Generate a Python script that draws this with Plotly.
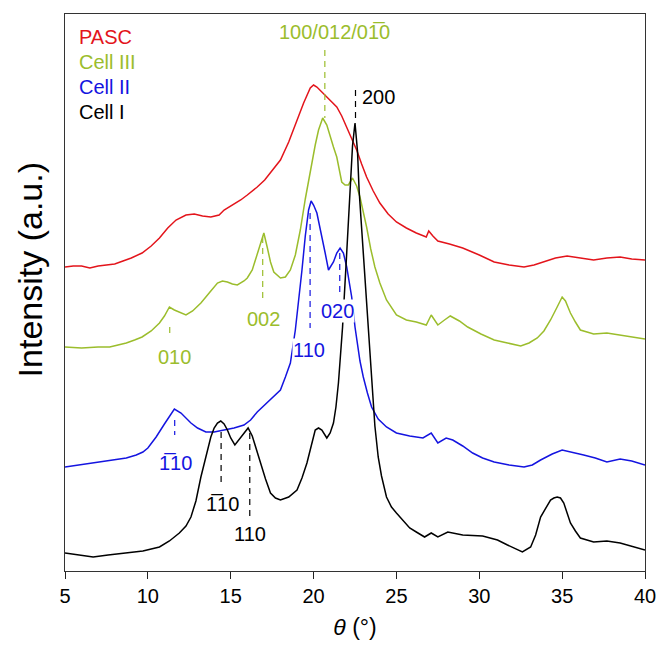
import plotly.graph_objects as go

# ---------------- data (theta in degrees, intensity in arbitrary units) ----------------
pasc_theta = [5.0, 5.5, 6.0, 6.5, 7.0, 7.5, 8.0, 8.5, 9.0, 9.65, 10.2, 10.7, 11.2, 11.7, 12.3, 12.8,
              13.3, 13.8, 14.3, 14.6, 15.1, 15.6, 16.0, 16.6, 17.05, 17.5, 18.0, 18.5, 19.0, 19.4,
              19.8, 20.0, 20.2, 20.5, 20.8, 21.1, 21.4, 21.7, 22.0, 22.3, 22.6, 22.9, 23.2, 23.6,
              24.0, 24.5, 25.0, 25.6, 26.2, 26.8, 26.95, 27.2, 27.5, 28.2, 29.0, 30.0, 30.9, 31.8,
              32.7, 33.3, 33.9, 34.6, 35.3, 36.1, 36.9, 37.7, 38.5, 39.2, 40.0]
pasc_int = [304, 305, 305, 303, 305, 306, 307, 310, 313, 318, 325, 333, 343, 351, 356, 357,
            355, 354, 356, 361, 366, 371, 376, 384, 391, 400, 411, 429, 451, 468,
            483, 486, 484, 479, 474, 469, 464, 455, 444, 433, 421, 407, 394, 380,
            368, 357, 349, 343, 338, 334, 340, 335, 330, 327, 323, 316, 309, 306,
            304, 306, 309, 313, 315, 313, 311, 313, 314, 312, 311]

cell3_theta = [5.0, 6.0, 7.0, 7.7, 8.2, 8.7, 9.2, 9.65, 10.2, 10.7, 11.0, 11.3, 11.6, 12.0, 12.3,
               12.7, 13.2, 13.7, 14.2, 14.5, 14.8, 15.1, 15.4, 15.8, 16.0, 16.3, 16.6, 16.8, 17.0,
               17.2, 17.4, 17.6, 18.0, 18.3, 18.6, 18.9, 19.2, 19.5, 19.8, 20.1, 20.3, 20.55, 20.8,
               21.0, 21.2, 21.4, 21.7, 21.9, 22.1, 22.35, 22.6, 22.8, 23.0, 23.2, 23.45, 23.7,
               24.0, 24.4, 25.0, 25.6, 26.2, 26.8, 27.1, 27.5, 27.9, 28.25, 28.8, 29.3, 30.1,
               30.9, 31.7, 32.5, 33.0, 33.5, 33.9, 34.3, 34.7, 35.0, 35.2, 35.5, 35.8, 36.1, 36.5,
               36.9, 37.7, 38.5, 39.2, 40.0]
cell3_int = [224, 223, 224, 224, 226, 228, 231, 234, 240, 248, 255, 264, 261, 258, 256,
             260, 268, 278, 288, 290, 289, 287, 286, 290, 293, 301, 316, 328, 338,
             324, 309, 299, 293, 294, 301, 316, 341, 372, 401, 426, 441, 453, 446,
             434, 424, 414, 389, 386, 386, 393, 385, 374, 360, 344, 322, 304,
             288, 271, 256, 251, 249, 246, 256, 246, 251, 255, 250, 244, 237,
             231, 228, 225, 228, 233, 240, 251, 264, 274, 270, 258, 249, 241, 239,
             237, 238, 236, 234, 232]

cell2_theta = [5.0, 5.8, 6.7, 7.4, 8.0, 8.7, 9.3, 9.7, 10.0, 10.5, 11.0, 11.3, 11.6, 12.0, 12.3,
               12.6, 13.0, 13.5, 14.0, 14.6, 15.2, 15.8, 16.2, 16.6, 17.2, 17.6, 18.0, 18.3, 18.6,
               18.9, 19.1, 19.3, 19.5, 19.7, 19.85, 20.0, 20.2, 20.5, 20.7, 20.9, 21.2, 21.4, 21.6,
               21.8, 22.0, 22.3, 22.5, 22.8, 23.0, 23.25, 23.5, 23.9, 24.4, 25.0, 25.8, 26.6, 27.1,
               27.5, 28.0, 28.4, 29.0, 29.6, 30.2, 30.9, 31.8, 32.7, 33.2, 33.7, 34.4, 35.0, 35.6,
               36.3, 37.0, 37.7, 38.5, 39.2, 40.0]
cell2_int = [104, 106, 108, 110, 111, 113, 116, 119, 123, 134, 147, 155, 162, 158, 153,
             148, 143, 139, 139, 141, 143, 146, 151, 159, 168, 174, 181, 194, 208,
             241, 270, 301, 335, 361, 370, 366, 358, 336, 318, 301, 309, 318, 323,
             318, 304, 274, 244, 210, 194, 178, 164, 152, 144, 138, 135, 133, 138,
             128, 133, 131, 125, 118, 113, 109, 106, 104, 106, 111, 117, 121, 119,
             116, 113, 109, 112, 110, 106]

cell1_theta = [5.0, 5.8, 6.7, 7.6, 8.7, 9.7, 10.7, 11.3, 11.9, 12.3, 12.6, 12.9, 13.2, 13.5, 13.8,
               14.0, 14.2, 14.4, 14.6, 14.8, 15.0, 15.25, 15.6, 15.85, 16.05, 16.3, 16.5, 16.8,
               17.1, 17.4, 17.7, 18.0, 18.5, 19.0, 19.3, 19.6, 19.85, 20.1, 20.3, 20.5, 20.8, 21.0,
               21.2, 21.35, 21.5, 21.75, 22.0, 22.2, 22.35, 22.5, 22.65, 22.75, 23.0, 23.3, 23.5,
               23.7, 23.9, 24.1, 24.4, 24.7, 25.0, 25.4, 25.8, 26.2, 26.7, 27.1, 27.5, 28.1, 29.0,
               30.2, 31.1, 31.7, 32.2, 32.6, 33.1, 33.4, 33.7, 34.0, 34.3, 34.5, 34.7, 34.9, 35.1,
               35.3, 35.5, 35.8, 36.1, 36.9, 37.7, 38.5, 39.2, 40.0]
cell1_int = [18, 16, 14, 16, 18, 20, 24, 30, 38, 45, 54, 70, 94, 114, 134,
             143, 148, 150, 147, 141, 133, 126, 133, 139, 143, 135, 124, 108,
             92, 78, 73, 71, 74, 81, 93, 108, 126, 141, 143, 141, 133, 138,
             148, 164, 188, 244, 318, 384, 425, 448, 420, 380, 316, 240, 188,
             145, 114, 95, 74, 64, 58, 50, 43, 39, 34, 38, 34, 39, 36,
             35, 31, 26, 22, 19, 24, 36, 54, 63, 71, 73, 74, 73, 68,
             58, 48, 40, 33, 29, 30, 28, 25, 21]

series_names = ["PASC", "Cell III", "Cell II", "Cell I"]
series_colors = ["#E3141B", "#9BBD2C", "#1414E0", "#000000"]

# reflection labels: text, colour index, label x, label y, dash x, dash y0, dash y1, white box
peak_labels = ["100/012/01\u03050", "200", "002", "010", "110", "020", "1\u030510", "1\u030510", "110"]
peak_series = [1, 3, 1, 1, 2, 2, 2, 3, 3]
peak_label_x = [21.28, 23.9, 16.99, 11.62, 19.73, 21.46, 11.68, 14.48, 16.15]
peak_label_y = [539, 474, 252, 214, 221, 260, 108, 67, 37]
peak_line_x = [20.68, 22.53, 16.93, 11.32, 19.79, 21.58, 11.62, 14.42, 16.15]
peak_line_y0 = [521, 481, 334, 244, 358, 318, 151, 139, 138]
peak_line_y1 = [453, 451, 268, 236, 243, 274, 136, 88, 54]
peak_boxed = [False, False, False, False, True, True, False, False, False]

x_ticks = [5, 10, 15, 20, 25, 30, 35, 40]

FONT = "Arial, Liberation Sans, sans-serif"

fig = go.Figure()
for th, it, nm, col in [(pasc_theta, pasc_int, series_names[0], series_colors[0]),
                        (cell3_theta, cell3_int, series_names[1], series_colors[1]),
                        (cell2_theta, cell2_int, series_names[2], series_colors[2]),
                        (cell1_theta, cell1_int, series_names[3], series_colors[3])]:
    fig.add_trace(go.Scatter(x=th, y=it, mode="lines", name=nm,
                             line=dict(color=col, width=1.5), showlegend=False))

for i in range(len(peak_labels)):
    col = series_colors[peak_series[i]]
    fig.add_shape(type="line", xref="x", yref="y",
                  x0=peak_line_x[i], x1=peak_line_x[i],
                  y0=peak_line_y0[i], y1=peak_line_y1[i],
                  line=dict(color=col, width=1.2, dash="6px,5px"))
for i in range(len(peak_labels)):
    col = series_colors[peak_series[i]]
    fig.add_annotation(x=peak_label_x[i], y=peak_label_y[i], xref="x", yref="y",
                       text=peak_labels[i], showarrow=False,
                       font=dict(family=FONT, size=20, color=col),
                       bgcolor="white" if peak_boxed[i] else "rgba(0,0,0,0)",
                       borderpad=0, xanchor="center", yanchor="middle")

# legend as coloured text
for k, (nm, col) in enumerate(zip(series_names, series_colors)):
    fig.add_annotation(x=0.02, y=0.958 - k * 0.0449, xref="paper", yref="paper",
                       text=nm, showarrow=False, xanchor="left", yanchor="middle",
                       font=dict(family=FONT, size=20, color=col))

# y-axis title placed as rotated text
fig.add_annotation(x=-0.06, y=0.54, xref="paper", yref="paper",
                   text="Intensity (a.u.)", showarrow=False, textangle=-90,
                   xanchor="center", yanchor="middle",
                   font=dict(family=FONT, size=34, color="black"))

fig.update_layout(
    width=668, height=662,
    margin=dict(l=65, r=16, t=14, b=91),
    paper_bgcolor="white", plot_bgcolor="white",
    font=dict(family=FONT, size=20, color="black"),
)
fig.update_xaxes(range=[5, 40], tickvals=x_ticks, ticktext=[str(t) for t in x_ticks],
                 ticks="outside", ticklen=7, tickcolor="#222", tickwidth=1,
                 showline=True, linecolor="#333", linewidth=1.2, mirror=True,
                 showgrid=False, zeroline=False,
                 tickfont=dict(family=FONT, size=20, color="black"),
                 title=dict(text="<i>\u03b8</i> (\u00b0)", font=dict(family=FONT, size=23),
                            standoff=12))
fig.update_yaxes(range=[0, 557], showticklabels=False, ticks="",
                 showline=True, linecolor="#333", linewidth=1.2, mirror=True,
                 showgrid=False, zeroline=False)

fig.write_html("out.html")
